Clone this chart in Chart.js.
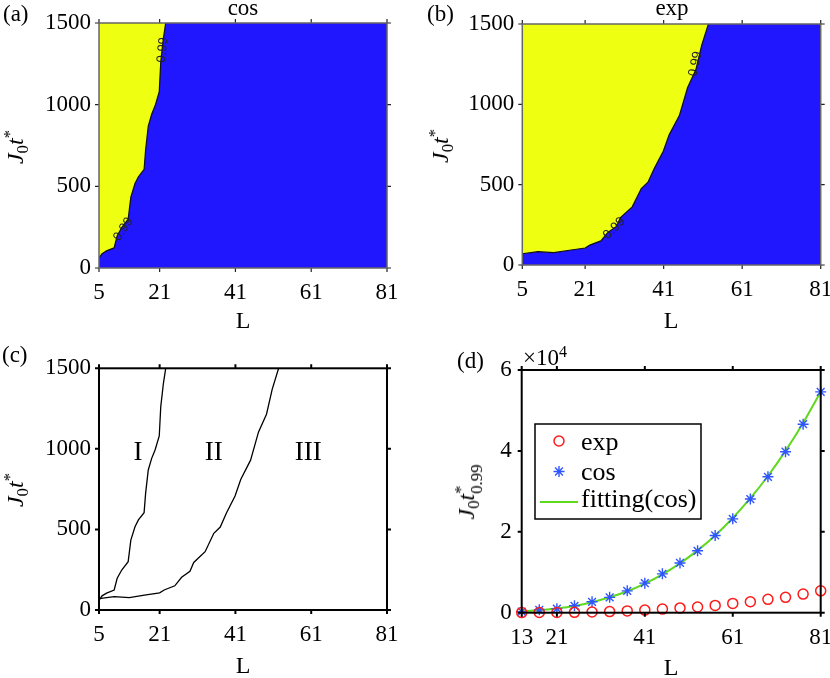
<!DOCTYPE html>
<html>
<head>
<meta charset="utf-8">
<script src="https://cdn.jsdelivr.net/npm/chart.js@4.4.0/dist/chart.umd.min.js"></script>
<style>
  body { margin: 0; background: #fff; }
  #fig { position: relative; width: 830px; height: 678px; overflow: hidden; font-family: 'Liberation Serif', serif; color: #000; }
  canvas { position: absolute; }
  .t { position: absolute; white-space: nowrap; line-height: 1; }
  .yl { position: absolute; white-space: nowrap; line-height: 1; font-size: 24px; transform: translate(-50%, -50%) rotate(-90deg); }
  .yl sub, .yl sup { font-size: 70%; vertical-align: baseline; position: relative; }
  .yl sub { top: 0.3em; }
  .yl sup { top: -0.45em; }
  .st { display: inline-block; font-size: 70%; line-height: 0.95; vertical-align: -0.45em; font-style: normal; }
  .st span { display: block; }
  .t sup { font-size: 70%; vertical-align: baseline; position: relative; top: -0.5em; }
</style>
</head>
<body>
<div id="fig">
  <canvas id="panelA" width="415" height="330" style="left:0;top:0"></canvas>
  <canvas id="panelB" width="415" height="330" style="left:415px;top:0"></canvas>
  <canvas id="panelC" width="415" height="348" style="left:0;top:330px"></canvas>
  <canvas id="panelD" width="415" height="348" style="left:415px;top:330px"></canvas>
</div>
<script>
// contour F = 0.99, cos profile (panels a and c)
const cosL = [5, 5.8, 7, 9, 9.8, 11, 12.7, 13.4, 14.5, 15.4, 16.9, 17.3, 18, 18.9, 19.8, 20.9, 21.3, 22, 22.6];
const cosT = [60, 88, 105, 124, 197, 248, 300, 434, 517, 559, 604, 724, 869, 941, 993, 1080, 1262, 1407, 1500];

// contour F = 0.99, exp profile (panels b and c)
const expL = [5, 9, 13, 17, 21, 22.2, 25, 26.8, 29, 30, 33, 35.3, 37, 38.6, 40.9, 42.4, 45, 47.1, 49.2, 50.7, 52.4];
const expT = [70, 83, 77, 92, 106, 124, 150, 203, 240, 295, 362, 476, 515, 600, 708, 810, 930, 1105, 1215, 1369, 1500];

// panel d
const sizeL   = [13, 17, 21, 25, 29, 33, 37, 41, 45, 49, 53, 57, 61, 65, 69, 73, 77, 81];
const expTime = [30, 40, 60, 90, 170, 280, 450, 650, 900, 1180, 1420, 1800, 2300, 2700, 3300, 3800, 4600, 5400];
const cosTime = [250, 700, 1000, 1700, 2700, 3800, 5400, 7300, 9600, 12300, 15300, 19100, 23200, 28100, 33600, 39800, 46600, 54600];
const fitTime = [300, 650, 1050, 1650, 2600, 3800, 5300, 7200, 9500, 12200, 15400, 19100, 23400, 28300, 33800, 40000, 46900, 54600];

const ticksL  = [5, 21, 41, 61, 81];
const ticksT  = [0, 500, 1000, 1500];
const ticksLd = [13, 21, 41, 61, 81];
const ticksTd = [0, 20000, 40000, 60000];

// contour labels and region names
const cosNoteL = [11.4, 21.8], cosNoteT = [237, 1335], cosNoteAngle = [-56, -84];
const expNoteL = [28.4, 49.1], expNoteT = [228, 1251], expNoteAngle = [-45, -78];
const regionNames = ['I', 'II', 'III'];
const regionL = [15.3, 35.3, 60.2];
const regionT = [977, 977, 977];

const legendNames = ['exp', 'cos', 'fitting(cos)'];

const YELLOW = '#eeff12';
const BLUE = '#2117ff';
const SERIF = 'Liberation Serif';
const FS = 23;

const pts = (xs, ys) => xs.map((x, i) => ({ x: x, y: ys[i] }));

const fig = document.getElementById('fig');

function putText(html, x, base, size, align) {
    const d = document.createElement('div');
    d.className = 't';
    d.innerHTML = html;
    d.style.fontSize = size + 'px';
    d.style.left = x + 'px';
    d.style.top = (base - 0.8375 * size) + 'px';
    if (align === 'center') d.style.transform = 'translateX(-50%)';
    fig.appendChild(d);
}

function putYLabel(html, cx, cy) {
    const d = document.createElement('div');
    d.className = 'yl';
    d.innerHTML = html;
    d.style.left = cx + 'px';
    d.style.top = cy + 'px';
    fig.appendChild(d);
}

// box, outward ticks, background and text notes
const framePlugin = {
    id: 'frame',
    beforeDraw(chart, args, o) {
        if (!o.bg) return;
        const a = chart.chartArea, c = chart.ctx;
        c.save();
        c.fillStyle = o.bg;
        c.fillRect(a.left, a.top, a.right - a.left, a.bottom - a.top);
        c.restore();
    },
    afterDraw(chart, args, o) {
        const a = chart.chartArea, c = chart.ctx;
        const xs = chart.scales.x, ys = chart.scales.y;
        c.save();

        (o.notes || []).forEach(n => {
            c.save();
            c.translate(xs.getPixelForValue(n.x), ys.getPixelForValue(n.y));
            c.rotate(n.angle * Math.PI / 180);
            c.font = n.font;
            c.fillStyle = n.color;
            c.textAlign = 'center';
            c.textBaseline = 'middle';
            c.fillText(n.text, 0, 0);
            c.restore();
        });

        const len = 4;
        c.strokeStyle = o.tickColor || '#000';
        c.lineWidth = o.tickWidth || 1;
        c.beginPath();
        xs.ticks.forEach(t => {
            const p = xs.getPixelForValue(t.value);
            c.moveTo(p, a.bottom); c.lineTo(p, a.bottom + len);
            c.moveTo(p, a.top); c.lineTo(p, a.top - len);
        });
        ys.ticks.forEach(t => {
            const p = ys.getPixelForValue(t.value);
            c.moveTo(a.left, p); c.lineTo(a.left - len, p);
            c.moveTo(a.right, p); c.lineTo(a.right + len, p);
        });
        c.stroke();

        c.strokeStyle = o.boxColor || '#000';
        c.lineWidth = o.boxWidth || 1;
        c.strokeRect(a.left, a.top, a.right - a.left, a.bottom - a.top);
        c.restore();
    }
};
Chart.register(framePlugin);

function axes(xMin, xMax, xTicks, yMin, yMax, yTicks, yWidth, xHeight, yFmt, yPad) {
    return {
        x: {
            type: 'linear', min: xMin, max: xMax,
            afterBuildTicks: s => { s.ticks = xTicks.map(v => ({ value: v })); },
            afterFit: s => { s.height = xHeight; s.paddingLeft = 0; s.paddingRight = 0; },
            grid: { display: false, drawTicks: false },
            border: { display: false },
            ticks: { font: { family: SERIF, size: FS }, color: '#000', padding: 11, maxRotation: 0, callback: v => String(v) }
        },
        y: {
            type: 'linear', min: yMin, max: yMax,
            afterBuildTicks: s => { s.ticks = yTicks.map(v => ({ value: v })); },
            afterFit: s => { s.width = yWidth; s.paddingTop = 0; s.paddingBottom = 0; },
            grid: { display: false, drawTicks: false },
            border: { display: false },
            ticks: { font: { family: SERIF, size: FS }, color: '#000', padding: yPad, callback: yFmt || (v => String(v)) }
        }
    };
}

function notes(ls, ts, angles) {
    return ls.map((l, i) => ({ x: l, y: ts[i], angle: angles[i], text: '0.99', font: '13px "Liberation Sans"', color: '#222' }));
}

const base = {
    responsive: false,
    animation: false,
    events: []
};

// (a) cos
new Chart(document.getElementById('panelA'), {
    type: 'scatter',
    data: {
        datasets: [{
            data: pts(cosL, cosT), showLine: true, pointRadius: 0,
            borderColor: '#111', borderWidth: 1.2, fill: 'end', backgroundColor: YELLOW
        }]
    },
    options: Object.assign({}, base, {
        layout: { padding: { left: 0, right: 28, top: 23, bottom: 0 } },
        scales: axes(5, 81, ticksL, 0, 1500, ticksT, 99, 62, null, 8),
        plugins: {
            legend: { display: false }, tooltip: { enabled: false },
            frame: { bg: BLUE, boxColor: '#666', boxWidth: 1.5, tickColor: '#222', tickWidth: 1.2, notes: notes(cosNoteL, cosNoteT, cosNoteAngle) }
        }
    })
});

// (b) exp
new Chart(document.getElementById('panelB'), {
    type: 'scatter',
    data: {
        datasets: [{
            data: pts(expL, expT), showLine: true, pointRadius: 0,
            borderColor: '#111', borderWidth: 1.2, fill: 'end', backgroundColor: YELLOW
        }]
    },
    options: Object.assign({}, base, {
        layout: { padding: { left: 0, right: 9.3, top: 24, bottom: 0 } },
        scales: axes(5, 81, ticksL, 0, 1500, ticksT, 107.3, 65, null, 8),
        plugins: {
            legend: { display: false }, tooltip: { enabled: false },
            frame: { bg: BLUE, boxColor: '#666', boxWidth: 1.5, tickColor: '#222', tickWidth: 1.2, notes: notes(expNoteL, expNoteT, expNoteAngle) }
        }
    })
});

// (c) both boundaries
new Chart(document.getElementById('panelC'), {
    type: 'scatter',
    data: {
        datasets: [
            { data: pts(cosL, cosT), showLine: true, pointRadius: 0, borderColor: '#000', borderWidth: 1.3 },
            { data: pts(expL, expT), showLine: true, pointRadius: 0, borderColor: '#000', borderWidth: 1.3 }
        ]
    },
    options: Object.assign({}, base, {
        layout: { padding: { left: 0, right: 28, top: 38.3, bottom: 0 } },
        scales: axes(5, 81, ticksL, 0, 1500, ticksT, 99, 68, null, 8),
        plugins: {
            legend: { display: false }, tooltip: { enabled: false },
            frame: {
                boxColor: '#000', boxWidth: 2, tickColor: '#000', tickWidth: 2,
                notes: regionNames.map((n, i) => ({ x: regionL[i], y: regionT[i], angle: 0, text: n, font: '27px "Liberation Serif"', color: '#000' }))
            }
        }
    })
});

// (d) time to reach 0.99
const legendPlugin = {
    id: 'boxLegend',
    afterDraw(chart) {
        const a = chart.chartArea, c = chart.ctx;
        const ds = chart.data.datasets;
        const bx = a.left + 13.3, by = a.top + 54, bw = 166, bh = 95;
        c.save();
        c.fillStyle = '#fff';
        c.fillRect(bx, by, bw, bh);
        c.strokeStyle = '#000';
        c.lineWidth = 1.5;
        c.strokeRect(bx, by, bw, bh);
        const rowsMark = [71, 101.5, 132];
        const rowsText = [80, 110, 137];
        const mx = a.left + 37.3;
        legendNames.forEach((name, i) => {
            const d = ds[i];
            const y = a.top + rowsMark[i];
            c.strokeStyle = d.borderColor;
            c.lineWidth = d.borderWidth;
            c.beginPath();
            if (d.pointStyle === 'circle') {
                c.arc(mx, y, d.pointRadius, 0, Math.PI * 2);
            } else if (d.pointStyle === 'star') {
                const r = d.pointRadius;
                for (let k = 0; k < 4; k++) {
                    const ang = k * Math.PI / 4;
                    c.moveTo(mx - r * Math.cos(ang), y - r * Math.sin(ang));
                    c.lineTo(mx + r * Math.cos(ang), y + r * Math.sin(ang));
                }
            } else {
                c.moveTo(a.left + 18.3, y);
                c.lineTo(a.left + 56.3, y);
            }
            c.stroke();
            c.fillStyle = '#000';
            c.font = '26px "Liberation Serif"';
            c.textAlign = 'left';
            c.textBaseline = 'alphabetic';
            c.fillText(name, a.left + 59.3, a.top + rowsText[i]);
        });
        c.restore();
    }
};

new Chart(document.getElementById('panelD'), {
    type: 'scatter',
    data: {
        datasets: [
            { data: pts(sizeL, expTime), pointStyle: 'circle', pointRadius: 5, borderColor: '#ff1a1a', backgroundColor: 'rgba(0,0,0,0)', borderWidth: 1.5, clip: false },
            { data: pts(sizeL, cosTime), pointStyle: 'star', pointRadius: 5.5, borderColor: '#2f55ff', backgroundColor: '#2f55ff', borderWidth: 1.4, clip: false },
            { data: pts(sizeL, fitTime), showLine: true, pointRadius: 0, borderColor: '#5fd81f', borderWidth: 2, cubicInterpolationMode: 'monotone' }
        ]
    },
    options: Object.assign({}, base, {
        layout: { padding: { left: 0, right: 9.3, top: 40, bottom: 0 } },
        scales: axes(13, 81, ticksLd, 0, 60000, ticksTd, 106.7, 65.3, v => String(v / 10000), 10),
        plugins: {
            legend: { display: false }, tooltip: { enabled: false },
            frame: { boxColor: '#000', boxWidth: 2, tickColor: '#000', tickWidth: 2 }
        }
    }),
    plugins: [legendPlugin]
});

// texts
putText('(a)', 3, 21, FS);
putText('cos', 243, 15, FS, 'center');
putText('L', 243, 328, 24, 'center');
putText('(b)', 427, 21, FS);
putText('exp', 672, 15, FS, 'center');
putText('L', 671, 328, 24, 'center');
putText('(c)', 2, 362, FS);
putText('L', 243, 673, 24, 'center');
putText('(d)', 457, 368, FS);
putText('L', 671, 675, 24, 'center');
putText('&times;10<sup>4</sup>', 523, 365, FS);

const jt = '<i>J</i><sub>0</sub><i>t</i><sup>*</sup>';
putYLabel(jt, 15, 147);
putYLabel(jt, 440, 146);
putYLabel(jt, 15, 490);
putYLabel('<i>J</i><sub>0</sub><i>t</i><span class="st"><span>*</span><span>0.99</span></span>', 469, 492);
</script>
</body>
</html>
